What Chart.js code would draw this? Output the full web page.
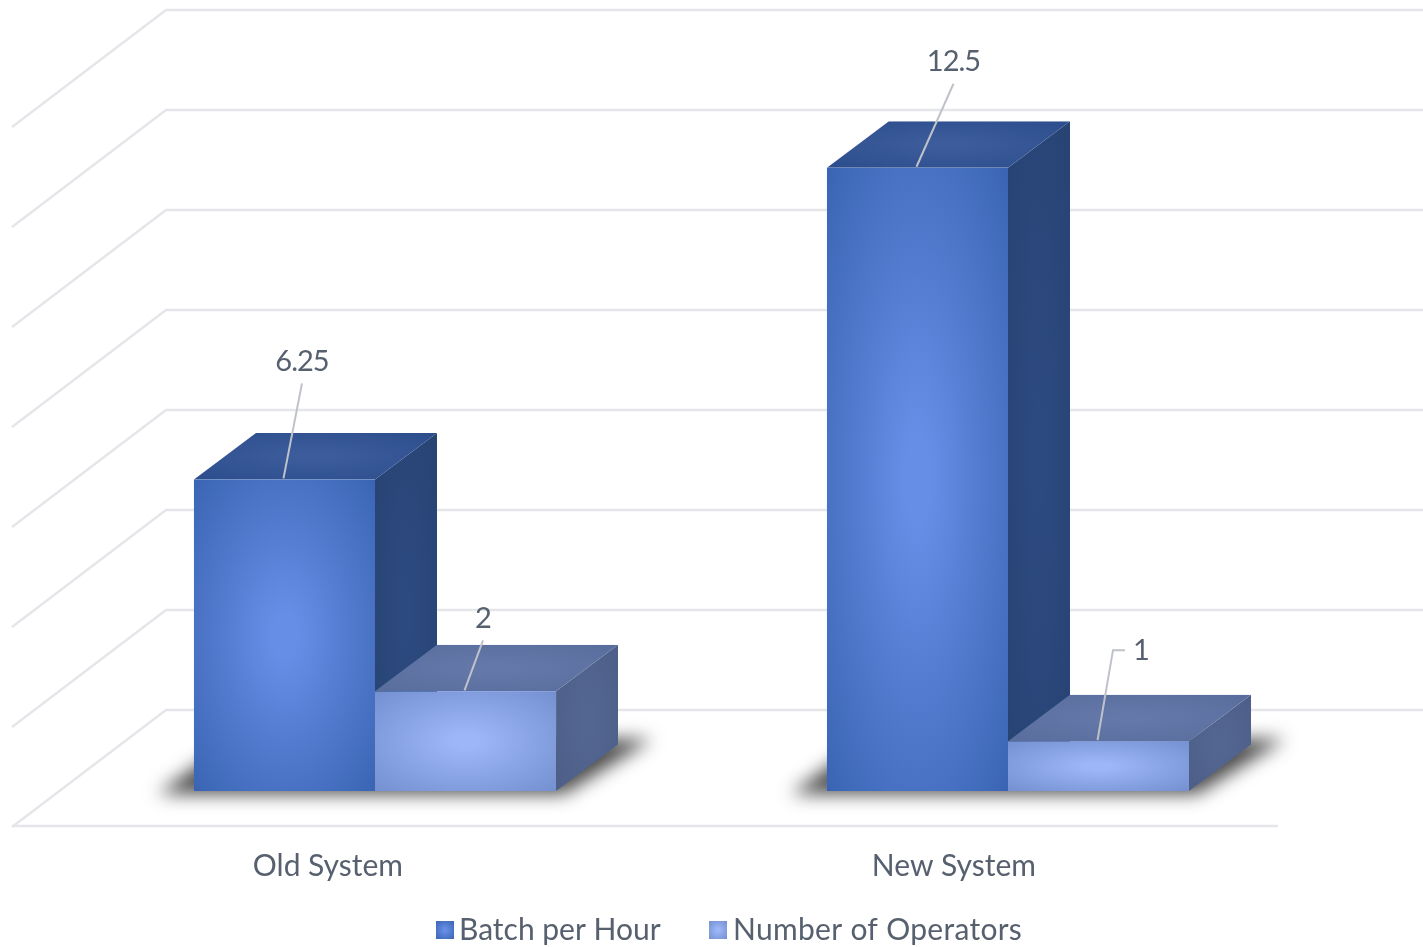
<!DOCTYPE html>
<html>
<head>
<meta charset="utf-8">
<style>
  html, body { margin: 0; padding: 0; background: #fff; }
  canvas { display: block; }
</style>
<script src="https://cdn.jsdelivr.net/npm/chart.js@4/dist/chart.umd.min.js"></script>
</head>
<body>
<canvas id="g1" width="1423" height="947"></canvas>
<script>
// data
const categories = ["Old System", "New System"];
const batchPerHour = [6.25, 12.5];
const operators = [2, 1];
const seriesNames = ["Batch per Hour", "Number of Operators"];
const gridTicksMax = 14;
const gridStep = 2;

// look
const textColor = "#56606e";
const gridColor = "#e5e6ea";
const leaderColor = "#bfc2c9";
const fontName = "Lato, 'Open Sans', sans-serif";
const depthX = 62, depthY = -46.5;        // bar depth
const wallX = 154, wallY = -81;           // back wall offset from the bar base plane
const floorDrop = 117;

const shades = [
  { front: ["#668ee6", "#3a64b3"], top: ["#3c5c9c", "#2c4d8c"], side: ["#2d4a80", "#274373"] },
  { front: ["#9cb6f8", "#7490d0"], top: ["#6479a9", "#586d9c"], side: ["#536691", "#4d5f88"] }
];
// where each value label sits, relative to the top of its bar [dataset][category]
const labelOffsets = [[[17.5, -118], [36, -106]], [[17.5, -73], [42.5, -91]]];
const legendPos = [[436, 459, 18, 0], [709, 733, 18, 0.3]];

// fill a polygon with a radial shade stretched to its bounding box
function shadeFace(ctx, pts, colors) {
  const xs = pts.map(p => p[0]), ys = pts.map(p => p[1]);
  const x0 = Math.min(...xs), x1 = Math.max(...xs), y0 = Math.min(...ys), y1 = Math.max(...ys);
  ctx.save();
  ctx.beginPath();
  pts.forEach((p, i) => i ? ctx.lineTo(p[0], p[1]) : ctx.moveTo(p[0], p[1]));
  ctx.closePath();
  ctx.clip();
  ctx.translate((x0 + x1) / 2, (y0 + y1) / 2);
  ctx.scale((x1 - x0) / 2, (y1 - y0) / 2);
  const g = ctx.createRadialGradient(0, 0, 0, 0, 0, Math.SQRT2);
  g.addColorStop(0, colors[0]);
  g.addColorStop(0.1, colors[0]);
  g.addColorStop(1, colors[1]);
  ctx.fillStyle = g;
  ctx.fillRect(-1, -1, 2, 2);
  ctx.restore();
}

const bars3d = {
  id: "bars3d",
  beforeDatasetsDraw(chart) {
    const ctx = chart.ctx;
    const wall = chart.scales.wall;
    // back wall lines with their diagonal on the left
    ctx.save();
    ctx.strokeStyle = gridColor;
    ctx.lineWidth = 2.5;
    wall.ticks.forEach(t => {
      const y = wall.getPixelForValue(t.value) + wallY;
      ctx.beginPath();
      ctx.moveTo(12, y + floorDrop);
      ctx.lineTo(wallX + 12, y);
      ctx.lineTo(1423, y);
      ctx.stroke();
    });
    // floor front edge
    const floorY = wall.getPixelForValue(0) + wallY + floorDrop - 1;
    ctx.beginPath();
    ctx.moveTo(12, floorY);
    ctx.lineTo(1278, floorY);
    ctx.stroke();
    ctx.restore();

    // soft shadow under each group
    const a = chart.getDatasetMeta(0).data, b = chart.getDatasetMeta(1).data;
    a.forEach((bar, i) => {
      const L = bar.x - bar.width / 2, R = b[i].x + b[i].width / 2, base = bar.base;
      ctx.save();
      ctx.filter = "blur(9px)";
      ctx.fillStyle = "rgba(30,30,30,0.8)";
      ctx.beginPath();
      ctx.moveTo(L - 36, base + 3);
      ctx.lineTo(R + 8, base + 3);
      ctx.lineTo(R + 96, base - 52);
      ctx.lineTo(L + 40, base - 52);
      ctx.closePath();
      ctx.fill();
      ctx.restore();
    });
  },
  afterDatasetsDraw(chart) {
    const ctx = chart.ctx;
    chart.data.datasets.forEach((ds, d) => {
      chart.getDatasetMeta(d).data.forEach(bar => {
        const l = bar.x - bar.width / 2, r = bar.x + bar.width / 2, t = bar.y, b = bar.base;
        shadeFace(ctx, [[r, t], [r + depthX, t + depthY], [r + depthX, b + depthY], [r, b]], shades[d].side);
        shadeFace(ctx, [[l, t], [l + depthX, t + depthY], [r + depthX, t + depthY], [r, t]], shades[d].top);
        shadeFace(ctx, [[l, t], [r, t], [r, b], [l, b]], shades[d].front);
      });
    });
  },
  afterDraw(chart) {
    const ctx = chart.ctx;
    ctx.save();
    ctx.textBaseline = "middle";

    // value labels with leader lines
    ctx.font = "29px " + fontName;
    ctx.letterSpacing = "-1px";
    chart.data.datasets.forEach((ds, d) => {
      chart.getDatasetMeta(d).data.forEach((bar, i) => {
        const off = labelOffsets[d][i];
        const tx = bar.x + off[0], ty = bar.y + off[1];
        ctx.strokeStyle = leaderColor;
        ctx.lineWidth = 2;
        ctx.beginPath();
        ctx.moveTo(bar.x - 1, bar.y - 1);
        if (off[0] > 40) {
          // the short one has an elbow next to the number
          ctx.lineTo(tx - 28, ty);
          ctx.lineTo(tx - 16, ty);
        } else {
          ctx.lineTo(tx, ty + 22);
        }
        ctx.stroke();
        ctx.fillStyle = textColor;
        ctx.textAlign = "center";
        ctx.fillText(String(ds.data[i]), tx, ty);
      });
    });

    // legend
    ctx.font = "30px " + fontName;
    ctx.textAlign = "left";
    seriesNames.forEach((name, d) => {
      const p = legendPos[d];
      shadeFace(ctx, [[p[0], 921], [p[0] + p[2], 921], [p[0] + p[2], 939], [p[0], 939]], shades[d].front);
      ctx.letterSpacing = p[3] + "px";
      ctx.fillStyle = textColor;
      ctx.fillText(name, p[1], 930);
    });
    ctx.restore();
  }
};

const lineChart = document.getElementById("g1");
const chart = new Chart(lineChart, {
  type: "bar",
  data: {
    labels: categories,
    datasets: [
      { label: seriesNames[0], data: batchPerHour, backgroundColor: "#4a72c4" },
      { label: seriesNames[1], data: operators, backgroundColor: "#8aa5e6" }
    ]
  },
  options: {
    responsive: false,
    animation: false,
    layout: { padding: { left: 58.5, right: 98.5, top: 91, bottom: 0 } },
    datasets: { bar: { barPercentage: 1, categoryPercentage: 0.572 } },
    scales: {
      x: {
        grid: { display: false },
        border: { display: false },
        ticks: {
          color: textColor,
          font: { family: fontName, size: 30 },
          align: "end",
          labelOffset: 28,
          padding: 49,
          maxRotation: 0
        },
        afterFit: s => { s.height = 156; }
      },
      // bars sit a bit tighter than the wall lines
      y: { display: false, min: 0, max: 14.04 },
      wall: { display: false, position: "left", min: 0, max: gridTicksMax, ticks: { stepSize: gridStep } }
    },
    plugins: { legend: { display: false }, tooltip: { enabled: false } }
  },
  plugins: [bars3d]
});
</script>
</body>
</html>
